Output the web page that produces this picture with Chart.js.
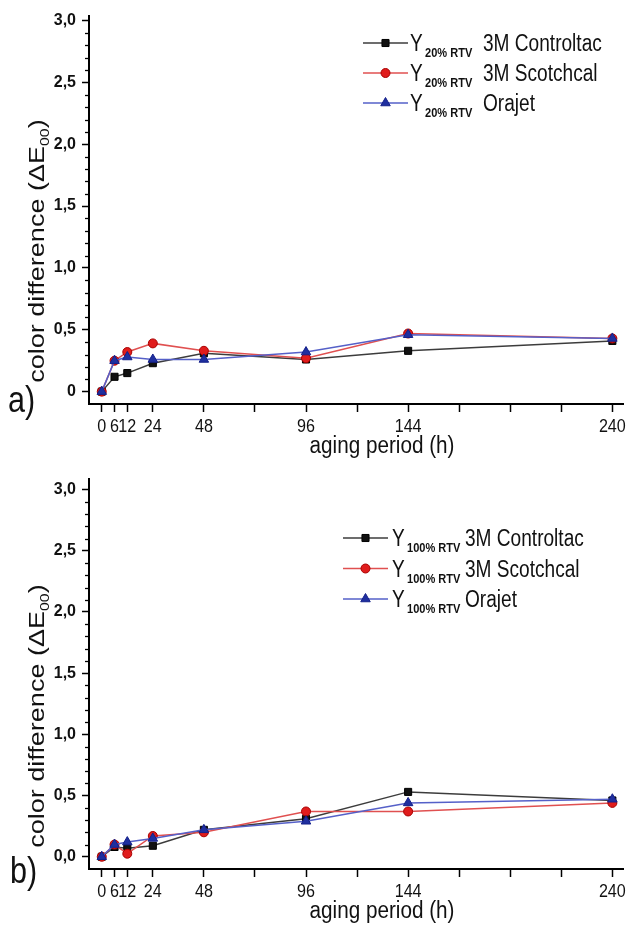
<!DOCTYPE html>
<html>
<head>
<meta charset="utf-8">
<script src="https://cdn.jsdelivr.net/npm/chart.js@4.4.0/dist/chart.umd.min.js"></script>
<style>
  html, body { margin: 0; padding: 0; background: #fff; }
  .panel { position: relative; width: 636px; }
  canvas { display: block; }
</style>
</head>
<body>
<div class="panel" style="height:463px"><canvas id="chartA" width="636" height="463"></canvas></div>
<div class="panel" style="height:464px"><canvas id="chartB" width="636" height="464"></canvas></div>
<script>
const hours = [0, 6, 12, 24, 48, 96, 144, 240];
const seriesNames = ['3M Controltac', '3M Scotchcal', 'Orajet'];

// a) Y 20% RTV
const controltacA = [0, 0.12, 0.15, 0.23, 0.31, 0.26, 0.33, 0.41];
const scotchcalA  = [0, 0.25, 0.32, 0.39, 0.33, 0.27, 0.47, 0.43];
const orajetA     = [0, 0.25, 0.28, 0.26, 0.26, 0.32, 0.46, 0.43];

// b) Y 100% RTV
const controltacB = [0, 0.08, 0.07, 0.09, 0.22, 0.31, 0.53, 0.46];
const scotchcalB  = [0, 0.10, 0.025, 0.17, 0.20, 0.37, 0.37, 0.44];
const orajetB     = [0, 0.10, 0.12, 0.15, 0.22, 0.29, 0.44, 0.47];

const xTicks = [0, 6, 12, 24, 48, 72, 96, 120, 144, 168, 192, 216, 240];
const xLabels = [0, 6, 12, 24, 48, 96, 144, 240];
const yTicks = [0, 0.5, 1, 1.5, 2, 2.5, 3];
const yLabelsA = ['0', '0,5', '1,0', '1,5', '2,0', '2,5', '3,0'];
const yLabelsB = ['0,0', '0,5', '1,0', '1,5', '2,0', '2,5', '3,0'];
const xTitle = 'aging period (h)';

const SANS = "'Liberation Sans', Arial, sans-serif";

const looks = [
    { line: '#3c3c3c', fill: '#111111', border: '#000000', point: 'rect', r: 5, order: 2 },
    { line: '#e05050', fill: '#e01c1c', border: '#a80000', point: 'circle', r: 4.5, order: 1 },
    { line: '#5560c8', fill: '#1f2f9f', border: '#14208a', point: 'triangle', r: 5.5, order: 0 }
];

function makeSets(values) {
    return values.map((vals, i) => ({
        label: seriesNames[i],
        data: hours.map((h, j) => ({ x: h, y: vals[j] })),
        borderColor: looks[i].line,
        borderWidth: 1.5,
        pointStyle: looks[i].point,
        pointRadius: looks[i].r,
        pointBackgroundColor: looks[i].fill,
        pointBorderColor: looks[i].border,
        pointBorderWidth: 1,
        tension: 0,
        clip: false,
        order: looks[i].order
    }));
}

// the figure is squashed sideways, so horizontal text is drawn narrower
function squeezed(ctx, text, x, y, align, k) {
    ctx.save();
    ctx.translate(x, y);
    ctx.scale(k, 1);
    ctx.textAlign = align;
    ctx.fillText(text, 0, 0);
    ctx.restore();
}

// minor ticks, axis texts, panel letter and legend with subscripts
const decor = {
    id: 'decor',
    afterDraw(chart, args, o) {
        const ctx = chart.ctx, y = chart.scales.y, x = chart.scales.x;
        ctx.save();

        ctx.strokeStyle = '#000';
        ctx.lineWidth = 1.3;
        for (let i = 1; i < 31; i++) {
            if (i % 5 === 0) continue;
            const py = Math.round(y.getPixelForValue(i / 10)) + 0.5;
            ctx.beginPath();
            ctx.moveTo(x.left - 4, py);
            ctx.lineTo(x.left, py);
            ctx.stroke();
        }

        // x tick labels and title
        ctx.fillStyle = '#111';
        ctx.textBaseline = 'middle';
        ctx.font = '19px ' + SANS;
        xLabels.forEach(v => squeezed(ctx, String(v), x.getPixelForValue(v), x.top + 23, 'center', 0.85));
        ctx.font = '23px ' + SANS;
        squeezed(ctx, xTitle, o.xTitleX, x.top + 43, 'center', 0.9);

        // y axis title
        ctx.save();
        ctx.translate(o.yTitle.x, o.yTitle.y);
        ctx.rotate(-Math.PI / 2);
        ctx.scale(1, 0.8);
        ctx.textBaseline = 'middle';
        ctx.textAlign = 'left';
        ctx.font = '27px ' + SANS;
        const t1 = 'color difference (ΔE', t3 = ')';
        const w1 = ctx.measureText(t1).width, w3 = ctx.measureText(t3).width;
        ctx.font = '16px ' + SANS;
        const w2 = ctx.measureText('00').width;
        let tx = -(w1 + w2 + w3) / 2;
        ctx.font = '27px ' + SANS;
        ctx.fillText(t1, tx, 0);
        tx += w1;
        ctx.font = '16px ' + SANS;
        ctx.fillText('00', tx, 9);
        tx += w2;
        ctx.font = '27px ' + SANS;
        ctx.fillText(t3, tx, 0);
        ctx.restore();

        // panel letter
        ctx.textBaseline = 'alphabetic';
        ctx.font = '36px ' + SANS;
        squeezed(ctx, o.letter.text, o.letter.x, o.letter.y, 'left', 0.85);

        // legend
        const lg = o.legend;
        chart.data.datasets.forEach((ds, i) => {
            const cy = lg.y + i * lg.dy;
            ctx.strokeStyle = ds.borderColor;
            ctx.lineWidth = 1.3;
            ctx.beginPath();
            ctx.moveTo(lg.x0, cy);
            ctx.lineTo(lg.x1, cy);
            ctx.stroke();
            ctx.fillStyle = ds.pointBackgroundColor;
            ctx.strokeStyle = ds.pointBorderColor;
            ctx.lineWidth = 1;
            Chart.helpers.drawPoint(ctx, { pointStyle: ds.pointStyle, radius: ds.pointRadius, borderWidth: 1, rotation: 0 }, (lg.x0 + lg.x1) / 2, cy);
            ctx.fillStyle = '#111';
            ctx.font = '23px ' + SANS;
            squeezed(ctx, 'Y', lg.yX, cy + 8, 'left', 0.83);
            ctx.font = 'bold 12px ' + SANS;
            squeezed(ctx, lg.sub, lg.subX, cy + 14, 'left', 0.92);
            ctx.font = '23px ' + SANS;
            squeezed(ctx, ds.label, lg.nameX, cy + 8, 'left', 0.83);
        });
        ctx.restore();
    }
};

function makeChart(id, values, yLabels, yMax, padTop, xHeight, extra) {
    return new Chart(document.getElementById(id), {
        type: 'line',
        data: { datasets: makeSets(values) },
        plugins: [decor],
        options: {
            responsive: false,
            animation: false,
            layout: { padding: { top: padTop, right: 13, bottom: 0, left: 0 } },
            plugins: {
                legend: { display: false },
                tooltip: { enabled: false },
                decor: extra
            },
            scales: {
                x: {
                    type: 'linear',
                    min: -6,
                    max: 245,
                    afterBuildTicks: s => { s.ticks = xTicks.map(v => ({ value: v })); },
                    afterFit: s => { s.height = xHeight; },
                    ticks: { display: false, autoSkip: false, maxRotation: 0 },
                    grid: { drawOnChartArea: false, drawTicks: true, tickLength: 8, tickColor: '#000', tickWidth: 1.5 },
                    border: { color: '#000', width: 2 },
                    title: { display: false }
                },
                y: {
                    min: -0.1,
                    max: yMax,
                    afterBuildTicks: s => { s.ticks = yTicks.map(v => ({ value: v })); },
                    afterFit: s => { s.width = 89; },
                    ticks: {
                        padding: 6,
                        color: '#111',
                        font: { family: SANS, size: 16, weight: 'bold' },
                        callback: v => yLabels[yTicks.indexOf(v)]
                    },
                    grid: { drawOnChartArea: false, drawTicks: true, tickLength: 7, tickColor: '#000', tickWidth: 1.5 },
                    border: { color: '#000', width: 2 }
                }
            }
        }
    });
}

makeChart('chartA', [controltacA, scotchcalA, orajetA], yLabelsA, 3.04, 10, 59, {
    xTitleX: 382,
    yTitle: { x: 38, y: 251 },
    letter: { text: 'a)', x: 8, y: 412 },
    legend: { x0: 363, x1: 408, yX: 410, subX: 425, nameX: 483, y: 43, dy: 30, sub: '20% RTV' }
});

makeChart('chartB', [controltacB, scotchcalB, orajetB], yLabelsB, 3.09, 12, 58, {
    xTitleX: 382,
    yTitle: { x: 38, y: 253 },
    letter: { text: 'b)', x: 10, y: 420 },
    legend: { x0: 343, x1: 388, yX: 392, subX: 407, nameX: 465, y: 75, dy: 30.5, sub: '100% RTV' }
});
</script>
</body>
</html>
